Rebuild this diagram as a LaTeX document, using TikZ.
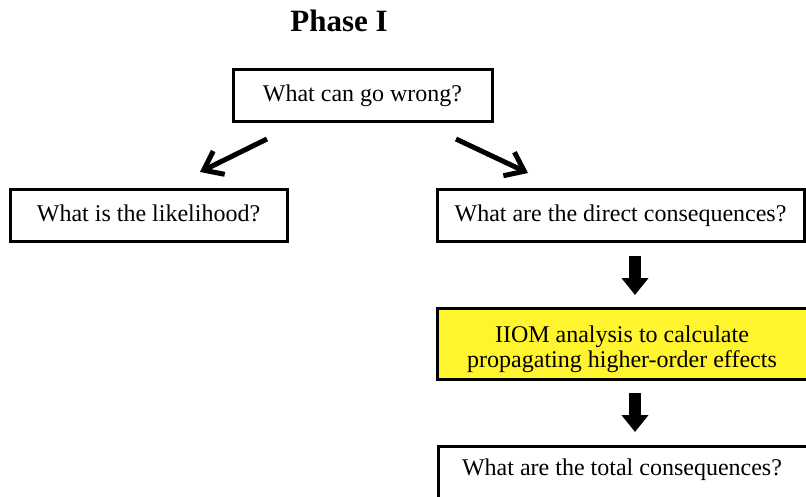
\documentclass[tikz,border=0pt]{standalone}
\usepackage{fontspec}
\setmainfont{Liberation Serif}
\usetikzlibrary{arrows.meta}
\definecolor{boxyellow}{HTML}{FFF42E}
\tikzset{
  qbox/.style={draw=black, line width=3pt, fill=white, inner sep=0pt, align=center,
    text height=16pt, text depth=4pt, font=\fontsize{24}{25}\selectfont},
  diagarrow/.style={line width=5pt, -{Straight Barb[length=17pt,width=26pt,line width=5pt]}},
  blockarrow/.style={line width=12pt, -{Triangle[length=17pt,width=26pt]}},
}
\begin{document}
\begin{tikzpicture}[x=1pt,y=-1pt]
\useasboundingbox (0,0) rectangle (806,497);
\clip (0,0) rectangle (806,497);
\node[font=\bfseries\fontsize{31}{34}\selectfont, anchor=base] (title) at (339,32) {Phase I};
\node[qbox, minimum width=259pt, minimum height=52pt] (top) at (362.5,96) {What can go wrong?};
\node[qbox, minimum width=277pt, minimum height=52pt] (like) at (148.5,216) {What is the likelihood?};
\node[qbox, minimum width=367pt, minimum height=52pt] (direct) at (620.5,216) {What are the direct consequences?};
\node[qbox, fill=boxyellow, minimum width=373pt, minimum height=71pt, text height=0pt, text depth=0pt] (iiom) at (623.5,343.5) {};
\node[font=\fontsize{24}{25}\selectfont, align=center, anchor=base, inner sep=0pt] (iiomtext) at (622,367) {IIOM analysis to calculate\\propagating higher-order effects};
\node[qbox, minimum width=373pt, minimum height=58pt, anchor=north west, text height=0pt, text depth=0pt] (total) at (437,445) {};
\node[font=\fontsize{24}{25}\selectfont, anchor=base, inner sep=0pt] (totaltext) at (622,475) {What are the total consequences?};
\coordinate (l1) at (267,139);
\coordinate (l2) at (200,172);
\coordinate (r1) at (456,139);
\coordinate (r2) at (528,173);
\coordinate (d1) at (635,256);
\coordinate (d2) at (635,295);
\coordinate (e1) at (635,393);
\coordinate (e2) at (635,432);
\draw[diagarrow] (l1) -- (l2);
\draw[diagarrow] (r1) -- (r2);
\draw[blockarrow] (d1) -- (d2);
\draw[blockarrow] (e1) -- (e2);
\end{tikzpicture}
\end{document}
